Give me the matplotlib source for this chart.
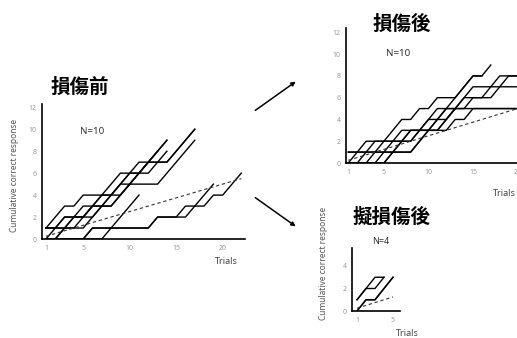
import matplotlib
matplotlib.use("Agg")
import matplotlib.pyplot as plt
from matplotlib.patches import FancyArrowPatch

plt.rcParams['font.family'] = ['Noto Sans', 'Noto Sans CJK JP', 'DejaVu Sans']

W, H = 517, 338

# cumulative correct responses, one list per animal (trial 1, 2, 3, ...)
pre_curves = [
    [1, 2, 3, 3, 4, 4, 4, 4, 5, 6, 6, 7, 8, 9],
    [1, 1, 1, 1, 1, 2, 3, 4, 4, 5, 6, 7, 8],
    [0, 1, 2, 2, 2, 3, 4, 5, 6, 6, 7, 7, 7, 7, 8, 9, 10],
    [0, 0, 1, 2, 2, 2, 3, 4, 5, 5, 5, 5, 5, 6, 7, 8, 9],
    [0, 0, 0, 0, 0, 0, 0, 1, 2, 3, 4],
    [0, 0, 0, 0, 0, 1, 1, 1, 1, 1, 1, 1, 2, 2, 2, 3, 3, 3, 4, 4, 5, 6],
    [0, 0, 0, 0, 0, 1, 1, 1, 1, 1, 1, 1, 2, 2, 2, 2, 3, 4, 5],
    [1, 1, 2, 2, 2, 3, 3, 3, 4, 5, 6, 6, 7, 8],
    [0, 0, 1, 2, 3, 3, 3, 3, 4, 5, 6, 7, 7, 7, 8, 9, 10],
    [1, 1, 1, 1, 2, 3, 4, 4, 5, 6, 6, 7, 8, 9],
]

post_curves = [
    [0, 0, 0, 1, 2, 3, 4, 4, 5, 5, 6, 6, 6, 7, 8, 8, 9],
    [0, 0, 0, 0, 0, 1, 2, 3, 3, 3, 3, 4, 5, 6, 6, 6, 7, 8, 8, 8, 8],
    [0, 0, 0, 0, 1, 2, 3, 3, 3, 4, 4, 5, 5, 6, 7, 7, 7, 7, 7, 7, 7],
    [1, 1, 1, 1, 1, 1, 1, 1, 2, 3, 4, 4, 5, 5, 5, 5, 5, 5, 5, 5, 5],
    [0, 1, 2, 2, 2, 2, 2, 2, 3, 4, 5, 5, 6, 7, 8, 8],
    [0, 0, 1, 2, 2, 2, 2, 2, 3, 3, 3, 4, 5],
    [0, 0, 0, 0, 0, 1, 2, 3, 3, 3, 4, 5, 5, 5, 6, 6, 6, 7, 8, 8, 8],
    [1, 1, 1, 1, 1, 1, 1, 1, 2, 3, 3, 3, 4, 4, 5, 5, 5, 5, 5, 5, 5],
]

sham_curves = [
    [1, 2, 3, 3],
    [1, 2, 2, 3],
    [0, 1, 1, 2, 3],
    [0, 1, 1, 2, 3],
]

# chance level (25 %) as a dashed reference, given by its two ends
pre_chance_trials = [1, 22]
pre_chance = [0.25, 5.5]
post_chance_trials = [1, 21]
post_chance = [0.25, 5.25]
sham_chance_trials = [1, 5]
sham_chance = [0.25, 1.25]

pre_xticks = [1, 5, 10, 15, 20]
pre_yticks = [0, 2, 4, 6, 8, 10, 12]
sham_xticks = [1, 5]
sham_yticks = [0, 2, 4]

fig = plt.figure(figsize=(W / 100, H / 100), dpi=100)


def px_rect(left, top, right, bottom):
    return [left / W, 1 - bottom / H, (right - left) / W, (bottom - top) / H]


def ftext(x, y, s, **kw):
    fig.text(x / W, 1 - y / H, s, ha='center', va='center', **kw)


def panel(rect, curves, ct, cv, xlim, ylim, xticks, yticks):
    ax = fig.add_axes(rect)
    for c in curves:
        ax.plot(range(1, len(c) + 1), c, color='black', lw=1.0)
    ax.plot(ct, cv, color='#333333', lw=0.8, ls=(0, (3, 2.5)))
    ax.set_xlim(*xlim)
    ax.set_ylim(*ylim)
    ax.set_xticks(xticks)
    ax.set_yticks(yticks)
    ax.tick_params(length=0, pad=4, labelsize=5, labelcolor='#9a9a9a')
    for s in ['top', 'right']:
        ax.spines[s].set_visible(False)
    for s in ['left', 'bottom']:
        ax.spines[s].set_linewidth(1.2)
    ax.patch.set_alpha(0)
    return ax


panel(px_rect(42, 104, 245, 239), pre_curves, pre_chance_trials, pre_chance,
      (0.57, 22.4), (0, 12.3), pre_xticks, pre_yticks)
panel(px_rect(346, 28, 530, 163), post_curves, post_chance_trials, post_chance,
      (0.74, 21.4), (0, 12.4), pre_xticks, pre_yticks)
panel(px_rect(352, 248, 400, 311), sham_curves, sham_chance_trials, sham_chance,
      (0.44, 5.78), (0, 5.6), sham_xticks, sham_yticks)

title_font = dict(family=['Noto Sans CJK JP'], fontsize=14, fontweight='bold')
ftext(80, 87, '損傷前', **title_font)
ftext(402, 24, '損傷後', **title_font)
ftext(392, 217, '擬損傷後', **title_font)

ftext(92, 131, 'N=10', fontsize=7, color='#333333')
ftext(398, 54, 'N=10', fontsize=7, color='#333333')
ftext(381, 242, 'N=4', fontsize=6.5, color='#333333')

ftext(226, 262, 'Trials', fontsize=6.5, color='#444444')
ftext(504, 193, 'Trials', fontsize=6.5, color='#444444')
ftext(407, 334, 'Trials', fontsize=6.5, color='#444444')

ftext(15, 175, 'Cumulative correct response', fontsize=6, rotation=90, color='#555555')
ftext(323, 263, 'Cumulative correct response', fontsize=6, rotation=90, color='#555555')

# arrows from the pre-lesion panel to the two follow-up panels
for start, end in [((253, 112), (298, 80)), ((253, 196), (298, 228))]:
    fig.add_artist(FancyArrowPatch((start[0] / W, 1 - start[1] / H), (end[0] / W, 1 - end[1] / H),
                                   transform=fig.transFigure, arrowstyle='-|>',
                                   mutation_scale=6, lw=1.1, color='black'))

fig.savefig('out.png', dpi=100)
